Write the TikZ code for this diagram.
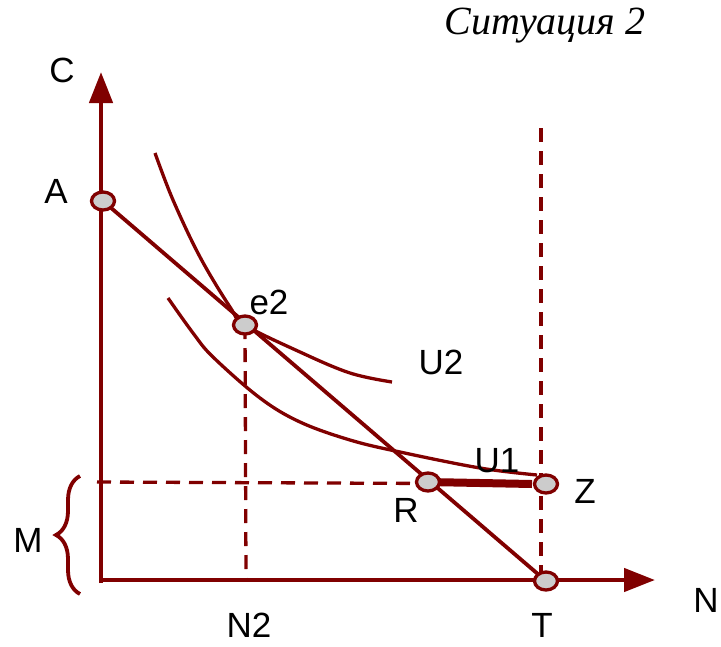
\documentclass[tikz,border=0pt]{standalone}
\usepackage{fontspec}
\setmainfont{Liberation Sans}
\newfontfamily\titlefont{Liberation Serif}
\usetikzlibrary{arrows.meta,shapes.geometric,decorations.pathreplacing}
\definecolor{darkred}{HTML}{800000}
\definecolor{dotgray}{HTML}{CCCCCC}
\tikzset{
  axis/.style={draw=darkred,line width=4.5pt,-{Triangle[width=23pt,length=31pt]}},
  budget/.style={draw=darkred,line width=3.8pt},
  indiff/.style={draw=darkred,line width=3.3pt},
  guide/.style={draw=darkred,line width=3.3pt,dash pattern=on 14pt off 9pt},
  dot/.style={ellipse,draw=darkred,fill=dotgray,line width=3.3pt,minimum width=23pt,minimum height=18pt,inner sep=0pt},
  lbl/.style={font=\fontsize{35}{40}\selectfont,inner sep=0pt}
}
\begin{document}
\begin{tikzpicture}[x=1pt,y=-1pt]
  \useasboundingbox (0,0) rectangle (721,646);
  % points of the diagram (pixel frame, y down)
  \coordinate (O) at (101,580);
  \coordinate (Ctop) at (101,72);
  \coordinate (Nend) at (655,580);
  \coordinate (Ap) at (103,201);
  \coordinate (E2p) at (245,325);
  \coordinate (Rp) at (428,482);
  \coordinate (Zp) at (546,484);
  \coordinate (Tp) at (546,581);
  \coordinate (N2p) at (246,580);
  \coordinate (Mleft) at (97,482);
  \coordinate (Ztop) at (541,128);
  \coordinate (Zbot) at (541,580);
  % guides
  \draw[guide] (E2p) -- (N2p);
  \draw[guide] (Ztop) -- (Zbot);
  \draw[guide] (Mleft) -- (Zp);
  % axes
  \draw[axis] (101,583) -- (Ctop);
  \draw[axis] (99,580) -- (Nend);
  % budget line and segment R--Z
  \draw[budget] (Ap) -- (Tp);
  \draw[darkred,line width=8pt] (Rp) -- ([xshift=-14pt]Zp);
  % indifference curves
  \draw[indiff] plot[smooth,tension=0.6] coordinates {(155,153) (173,200) (200,257) (230,307) (245,325) (300,352) (350,373) (392,382)};
  \draw[indiff] plot[smooth,tension=0.6] coordinates {(168,298) (193,333) (213,357) (260,398) (300,422) (350,440) (400,452) (480,468) (537,475)};
  % brace for M
  \draw[darkred,line width=3.8pt,decorate,decoration={brace,amplitude=24pt,aspect=0.5}] (80,594) -- (80,476);
  % markers
  \node[dot] (A) at (Ap) {};
  \node[dot] (e2) at (E2p) {};
  \node[dot] (R) at (Rp) {};
  \node[dot] (Z) at (Zp) {};
  \node[dot] (T) at (Tp) {};
  % labels
  \node[lbl] (lC) at (62,70) {C};
  \node[lbl] (lA) at (56,191) {A};
  \node[lbl] (le2) at (269,302) {e2};
  \node[lbl] (lU2) at (441,362) {U2};
  \node[lbl] (lU1) at (497,461) {U1};
  \node[lbl] (lZ) at (585,491) {Z};
  \node[lbl] (lR) at (406,510) {R};
  \node[lbl] (lN2) at (249,625) {N2};
  \node[lbl] (lT) at (542,625) {T};
  \node[lbl] (lN) at (706,600) {N};
  \node[lbl] (lM) at (28,540) {M};
  \node[font=\titlefont\itshape\fontsize{40}{46}\selectfont,inner sep=0pt] (title) at (545,26) {Ситуация 2};
\end{tikzpicture}
\end{document}
